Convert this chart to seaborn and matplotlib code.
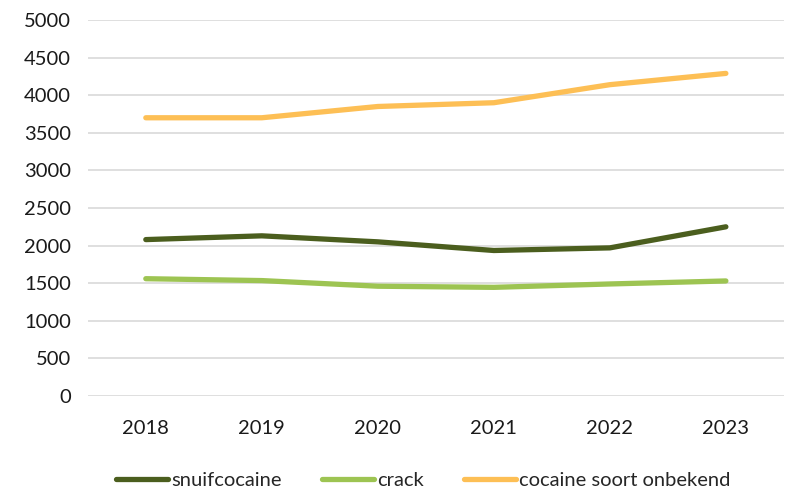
import matplotlib
matplotlib.use("Agg")
import matplotlib.pyplot as plt
import pandas as pd
import seaborn as sns

years = [2018, 2019, 2020, 2021, 2022, 2023]
snuifcocaine = [2080, 2130, 2050, 1935, 1970, 2250]
crack = [1560, 1535, 1460, 1445, 1490, 1530]
onbekend = [3700, 3700, 3850, 3900, 4140, 4290]

series = ["snuifcocaine", "crack", "cocaine soort onbekend"]
colors = ["#4B5E1E", "#9DC452", "#FDBF55"]

df = pd.DataFrame({
    "jaar": years * 3,
    "aantal": snuifcocaine + crack + onbekend,
    "soort": [s for s in series for _ in years],
})

sns.set_style("white")
plt.rcParams["font.family"] = ["Lato", "DejaVu Sans"]

fig = plt.figure(figsize=(7.91, 4.88), dpi=100)
ax = fig.add_axes([0.111, 0.1885, 0.88, 0.7705])

sns.lineplot(data=df, x="jaar", y="aantal", hue="soort", hue_order=series,
             palette=colors, linewidth=3.8, ax=ax, legend=False,
             solid_capstyle="round", solid_joinstyle="round")

ax.set_xlim(2017.5, 2023.5)
ax.set_ylim(0, 5000)
ax.set_yticks(range(0, 5001, 500))
ax.set_xticks(years)
ax.set_xticklabels([str(y) for y in years])
ax.grid(axis="y", color="#D9D9D9", linewidth=1.2)
ax.set_axisbelow(True)
for s in ax.spines.values():
    s.set_visible(False)
ax.tick_params(axis="both", length=0, labelsize=14.5, colors="#1a1a1a")
ax.tick_params(axis="x", pad=17)
ax.tick_params(axis="y", pad=12)
ax.set_xlabel("")
ax.set_ylabel("")

handles = [plt.Line2D([], [], color=c, lw=3.8, solid_capstyle="round") for c in colors]
fig.legend(handles, series, loc="lower center", bbox_to_anchor=(0.535, -0.04),
           ncol=3, frameon=False, fontsize=14.5, handlelength=2.6,
           handletextpad=0.15, columnspacing=2.0)

fig.savefig("out.png", dpi=100)
